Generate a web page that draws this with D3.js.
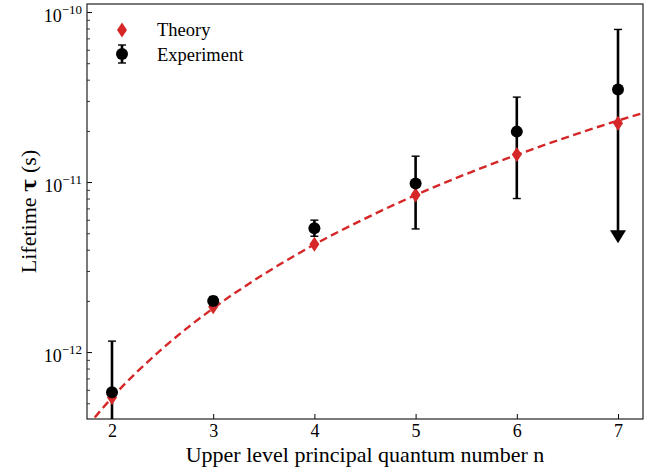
<!DOCTYPE html>
<html><head><meta charset="utf-8">
<script src="https://cdn.jsdelivr.net/npm/d3@7"></script>
<style>html,body{margin:0;padding:0;background:#fff;} svg{display:block;} text{font-family:"Liberation Serif","DejaVu Serif",serif;fill:#000;}</style>
</head><body>
<svg id="c" width="652" height="474"></svg>
<script>
// Data
const levels = [2, 3, 4, 5, 6, 7];
const theory = [5.4e-13, 1.85e-12, 4.3e-12, 8.4e-12, 1.45e-11, 2.22e-11];
const experiment = [5.8e-13, 2.0e-12, 5.35e-12, 9.8e-12, 1.98e-11, 3.5e-11];
const expLower = [1e-13, 1.9e-12, 4.8e-12, 5.3e-12, 8.0e-12, 4.8e-12];
const expUpper = [1.16e-12, 2.12e-12, 5.97e-12, 1.42e-11, 3.16e-11, 7.9e-11];
const expUpperLimit = [false, false, false, false, false, true];
const fitN = [1.75, 2, 2.5, 3, 3.5, 4, 4.5, 5, 5.5, 6, 6.5, 7, 7.25];
const fitTau = [3.62e-13, 5.4e-13, 1.05e-12, 1.81e-12, 2.87e-12, 4.29e-12, 6.1e-12, 8.38e-12, 1.115e-11, 1.446e-11, 1.84e-11, 2.3e-11, 2.55e-11];
const xTicks = [2, 3, 4, 5, 6, 7];
const yMajor = [1e-12, 1e-11, 1e-10];
const yMajorExp = ["−12", "−11", "−10"];
const legendLabels = ["Theory", "Experiment"];

const svg = d3.select("#c");
const L = 87, R = 643, T = 4, B = 419;
const x = d3.scaleLinear().domain([1.753, 7.247]).range([L, R]);
const y = d3.scaleLog().domain([4.04e-13, 1.115e-10]).range([B, T]);
const red = "#d62728";

svg.append("defs").append("clipPath").attr("id", "clip")
  .append("rect").attr("x", L).attr("y", T).attr("width", R - L).attr("height", B - T);

// minor y ticks
const minor = [];
[1e-13, 1e-12, 1e-11].forEach(d => { for (let k = 2; k <= 9; k++) { const v = d * k; if (v >= y.domain()[0] && v <= y.domain()[1]) minor.push(v); } });

const gx = svg.append("g").attr("transform", `translate(0,${B})`)
  .call(d3.axisBottom(x).tickValues(xTicks).tickSize(-5).tickPadding(5).tickFormat(d3.format("d")));
gx.select(".domain").remove();
gx.selectAll("line").attr("stroke", "#000").attr("stroke-width", 1);
gx.selectAll("text").attr("font-size", 18).attr("font-family", "Liberation Serif").attr("dy", "0.71em").attr("fill", "#000");

const gy = svg.append("g").attr("transform", `translate(${L},0)`)
  .call(d3.axisLeft(y).tickValues(yMajor).tickSize(-5).tickFormat(""));
gy.select(".domain").remove();
gy.selectAll("line").attr("stroke", "#000").attr("stroke-width", 1);
const gym = svg.append("g").attr("transform", `translate(${L},0)`)
  .call(d3.axisLeft(y).tickValues(minor).tickSize(-3).tickFormat(""));
gym.select(".domain").remove();
gym.selectAll("line").attr("stroke", "#000").attr("stroke-width", 0.8);

// y tick labels with superscripts
yMajor.forEach((v, i) => {
  const t = svg.append("text").attr("x", L - 5).attr("y", y(v) + 10).attr("text-anchor", "end").attr("font-size", 18);
  t.append("tspan").text("10");
  t.append("tspan").attr("dy", -8).attr("font-size", 13).text(yMajorExp[i]);
});

// frame
svg.append("rect").attr("x", L).attr("y", T).attr("width", R - L).attr("height", B - T)
  .attr("fill", "none").attr("stroke", "#222").attr("stroke-width", 1.2);

const plot = svg.append("g").attr("clip-path", "url(#clip)");

// error bars
const bars = plot.append("g");
levels.forEach((n, i) => {
  const top = y(expUpper[i]);
  const bot = expUpperLimit[i] ? y(expLower[i]) - 4 : y(Math.max(expLower[i], 1e-14));
  bars.append("line").attr("x1", x(n)).attr("x2", x(n)).attr("y1", top).attr("y2", bot)
    .attr("stroke", "#000").attr("stroke-width", 2.6);
  bars.append("line").attr("x1", x(n) - 4).attr("x2", x(n) + 4).attr("y1", top).attr("y2", top)
    .attr("stroke", "#000").attr("stroke-width", 1.4);
  if (!expUpperLimit[i] && expLower[i] > y.domain()[0]) {
    bars.append("line").attr("x1", x(n) - 4).attr("x2", x(n) + 4).attr("y1", y(expLower[i])).attr("y2", y(expLower[i]))
      .attr("stroke", "#000").attr("stroke-width", 1.4);
  }
  if (expUpperLimit[i]) {
    const cy = y(expLower[i]);
    bars.append("path").attr("d", `M${x(n) - 8},${cy - 6}L${x(n) + 8},${cy - 6}L${x(n)},${cy + 7}Z`).attr("fill", "#000");
  }
});

// fit curve
plot.append("path").datum(fitN.map((n, i) => [n, fitTau[i]]))
  .attr("d", d3.line().x(d => x(d[0])).y(d => y(d[1])).curve(d3.curveMonotoneX))
  .attr("fill", "none").attr("stroke", red).attr("stroke-width", 2.4).attr("stroke-dasharray", "8,4.5");

// theory diamonds
const diamond = (cx, cy) => `M${cx},${cy - 7.5}L${cx + 5},${cy}L${cx},${cy + 7.5}L${cx - 5},${cy}Z`;
plot.append("g").selectAll("path").data(levels).join("path")
  .attr("d", (n, i) => diamond(x(n), y(theory[i]))).attr("fill", red);

// experiment circles
plot.append("g").selectAll("circle").data(levels).join("circle")
  .attr("cx", n => x(n)).attr("cy", (n, i) => y(experiment[i])).attr("r", 6).attr("fill", "#000");

// legend
svg.append("path").attr("d", diamond(122, 30)).attr("fill", red);
svg.append("line").attr("x1", 122).attr("x2", 122).attr("y1", 45).attr("y2", 63).attr("stroke", "#000").attr("stroke-width", 2.6);
svg.append("line").attr("x1", 118).attr("x2", 126).attr("y1", 45).attr("y2", 45).attr("stroke", "#000").attr("stroke-width", 1.4);
svg.append("line").attr("x1", 118).attr("x2", 126).attr("y1", 63).attr("y2", 63).attr("stroke", "#000").attr("stroke-width", 1.4);
svg.append("circle").attr("cx", 122).attr("cy", 54).attr("r", 6).attr("fill", "#000");
legendLabels.forEach((s, i) => {
  svg.append("text").attr("x", 157).attr("y", 36 + i * 25).attr("font-size", 18.5).text(s);
});

// axis labels
svg.append("text").attr("x", (L + R) / 2).attr("y", 462).attr("text-anchor", "middle").attr("font-size", 22)
  .text("Upper level principal quantum number n");
const yl = svg.append("text").attr("transform", `translate(36,${(T + B) / 2}) rotate(-90)`).attr("text-anchor", "middle").attr("font-size", 22);
yl.append("tspan").text("Lifetime ");
yl.append("tspan").attr("font-family", "DejaVu Serif").attr("font-weight", "bold").attr("font-size", 20).text("τ");
yl.append("tspan").text(" (s)");
</script>
</body></html>
